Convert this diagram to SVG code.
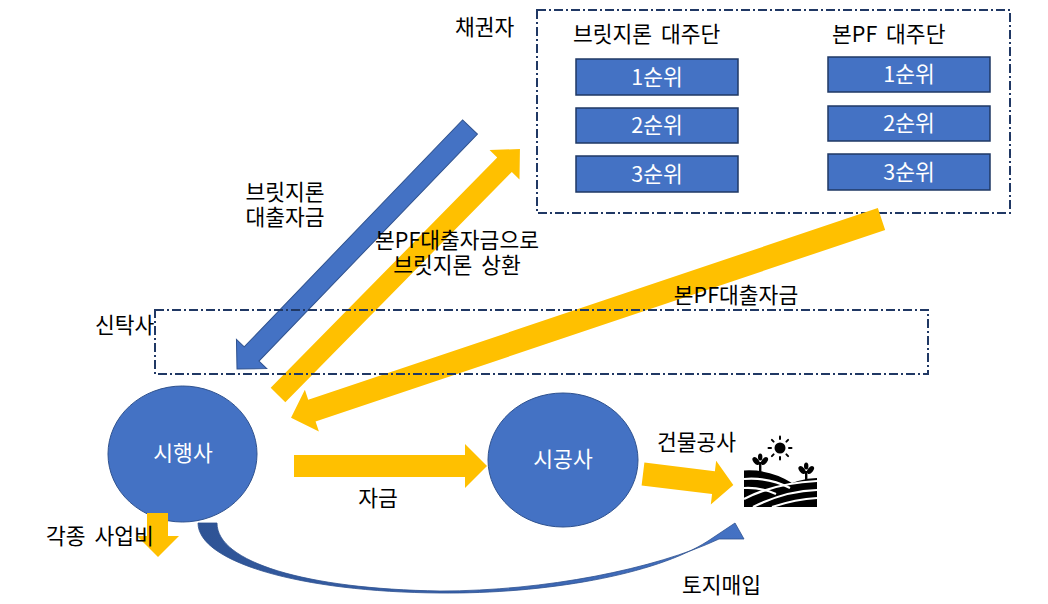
<svg xmlns="http://www.w3.org/2000/svg" width="1048" height="604" viewBox="0 0 1048 604">
<style>
.t{font-family:"Noto Sans CJK KR","Liberation Sans",sans-serif;font-size:21.5px;fill:#000;word-spacing:4px}
.w{fill:#fff}
.m{text-anchor:middle}
.box{fill:none;stroke:#203864;stroke-width:2;stroke-dasharray:9 3 2 3}
.rank{fill:#4472C4;stroke:#1F3864;stroke-width:1.5}
.node{fill:#4472C4;stroke:#2F528F;stroke-width:1}
.ya{fill:#FFC000}
.ba{fill:#4472C4;stroke:#2F528F;stroke-width:1}
</style>
<defs>
<linearGradient id="cg" x1="0" y1="0" x2="1" y2="0">
<stop offset="0" stop-color="#2E5395"/>
<stop offset="1" stop-color="#4472C4"/>
</linearGradient>
</defs>
<rect width="1048" height="604" fill="#fff"/>

<g id="creditors">
<rect class="box" x="537" y="10" width="473" height="203"/>
<text class="t" x="455" y="35">채권자</text>
<text class="t" x="573" y="42">브릿지론 대주단</text>
<text class="t" x="832" y="42">본PF 대주단</text>
<g id="bridge-ranks">
<rect class="rank" x="576" y="59" width="162" height="36"/>
<rect class="rank" x="576" y="108" width="162" height="35"/>
<rect class="rank" x="576" y="156" width="162" height="36"/>
<text class="t w m" x="657" y="84.5">1순위</text>
<text class="t w m" x="657" y="133">2순위</text>
<text class="t w m" x="657" y="181.5">3순위</text>
</g>
<g id="pf-ranks">
<rect class="rank" x="828" y="57" width="162" height="35"/>
<rect class="rank" x="828" y="106" width="162" height="35"/>
<rect class="rank" x="828" y="154" width="162" height="36"/>
<text class="t w m" x="909" y="82">1순위</text>
<text class="t w m" x="909" y="131">2순위</text>
<text class="t w m" x="909" y="179.5">3순위</text>
</g>
</g>

<g id="developer">
<ellipse class="node" cx="182.5" cy="454" rx="74.5" ry="68"/>
<text class="t w m" x="183" y="461">시행사</text>
</g>

<g id="constructor">
<ellipse class="node" cx="563" cy="460" rx="75" ry="67"/>
<text class="t w m" x="563" y="467">시공사</text>
</g>

<g id="land">
<circle cx="780" cy="448" r="5.5" fill="#000"/>
<g stroke="#000" stroke-width="2" stroke-linecap="round">
<line x1="780" y1="439" x2="780" y2="436.5"/>
<line x1="780" y1="457" x2="780" y2="459.5"/>
<line x1="771" y1="448" x2="768.5" y2="448"/>
<line x1="789" y1="448" x2="791.5" y2="448"/>
<line x1="773.6" y1="441.6" x2="771.9" y2="439.9"/>
<line x1="786.4" y1="441.6" x2="788.1" y2="439.9"/>
<line x1="773.6" y1="454.4" x2="771.9" y2="456.1"/>
<line x1="786.4" y1="454.4" x2="788.1" y2="456.1"/>
</g>
<g fill="#000">
<rect x="759" y="462" width="2.4" height="12"/>
<ellipse cx="756" cy="461" rx="2.6" ry="4.5" transform="rotate(-40 756 461)"/>
<ellipse cx="764.5" cy="461" rx="2.6" ry="4.5" transform="rotate(40 764.5 461)"/>
<ellipse cx="760.2" cy="457" rx="2.2" ry="3.5"/>
<rect x="805" y="471" width="2.4" height="11"/>
<ellipse cx="802" cy="470" rx="2.6" ry="4.5" transform="rotate(-40 802 470)"/>
<ellipse cx="810.5" cy="470" rx="2.6" ry="4.5" transform="rotate(40 810.5 470)"/>
<ellipse cx="806.2" cy="466" rx="2.2" ry="3.5"/>
<path d="M744,470.5 Q770,469 792,483 L798,481 Q808,478 817,478 L817,507 L744,507 Z"/>
</g>
<g fill="none" stroke="#fff" stroke-width="2.2">
<path d="M744,479 Q768,477 790,488"/>
<path d="M744,488 Q760,487 776,494"/>
<path d="M744,499 Q775,483 817,481"/>
<path d="M753,507 Q785,491 817,490"/>
<path d="M772,507 Q796,499 817,498"/>
</g>
</g>

<g id="connectors">
<polygon class="ba" points="0,-10.25 315,-10.25 315,-21 336,0 315,21 315,10.25 0,10.25" transform="translate(470,127) rotate(133.9)"/>
<polygon class="ya" points="0,-10.25 323,-10.25 323,-21 345,0 323,21 323,10.25 0,10.25" transform="translate(278,395) rotate(-45.47)"/>
<polygon class="ya" points="0,-11.5 601,-11.5 601,-22 623,0 601,22 601,11.5 0,11.5" transform="translate(881.5,219) rotate(161.4)"/>
<polygon class="ya" points="294,455 465,455 465,444 487,466 465,488 465,477 294,477"/>
<polygon class="ya" points="0,-11.5 71,-11.5 71,-22 91,0 71,22 71,11.5 0,11.5" transform="translate(643,474) rotate(7)"/>
<polygon class="ya" points="147,513 168,513 168,536 179,536 158,557 137,536 147,536"/>
<path d="M198,523 C198,562 300,592 440,593 C545,594 655,575 708,541 L735,523 L744,539 L719,539 C655,569 545,591 440,591 C305,589 217,562 217,523 Z" fill="url(#cg)" stroke="#2F528F" stroke-width="0.8"/>
</g>

<g id="trust">
<rect class="box" x="155" y="310" width="773" height="64"/>
<text class="t" x="95" y="333">신탁사</text>
</g>

<g id="labels">
<text class="t m" x="285" y="200">브릿지론<tspan x="285" dy="25">대출자금</tspan></text>
<text class="t m" x="457" y="248">본PF대출자금으로<tspan x="457" dy="25">브릿지론 상환</tspan></text>
<text class="t m" x="736" y="303">본PF대출자금</text>
<text class="t m" x="378" y="506">자금</text>
<text class="t" x="657" y="450">건물공사</text>
<text class="t" x="46" y="544">각종 사업비</text>
<text class="t" x="682" y="593">토지매입</text>
</g>
</svg>
